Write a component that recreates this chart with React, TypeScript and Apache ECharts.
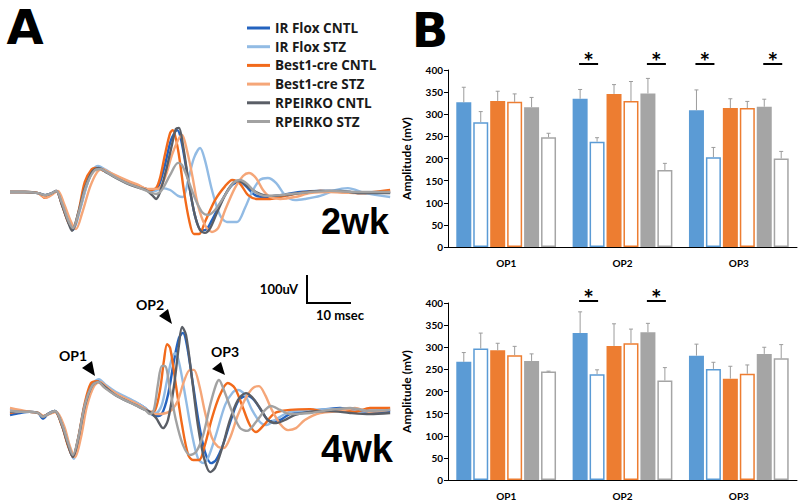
import React, { useEffect, useRef } from 'react';
import * as echarts from 'echarts';

// ---------- DATA ----------
const groups = ['IR Flox CNTL', 'IR Flox STZ', 'Best1-cre CNTL', 'Best1-cre STZ', 'RPEIRKO CNTL', 'RPEIRKO STZ'];
const opCategories = ['OP1', 'OP2', 'OP3'];
const ampTicks = [0, 400, 50];

// Traces (time in msec, amplitude in uV), 2 weeks
const t2_irfCntl = [[0,0],[3.4,0],[6.4,-4],[8.0,-11],[9.5,-4],[10.5,4],[11.8,-43],[13.2,-104],[14.3,-136],[15.7,-71],[17.3,18],[18.9,79],[20.2,89],[21.8,75],[24.1,54],[26.4,36],[28.6,21],[30.9,11],[32.3,4],[33.6,14],[35.2,96],[36.6,186],[38.0,221],[38.9,186],[40.5,43],[42.0,-82],[43.4,-136],[44.3,-136],[45.9,-100],[48.2,-29],[50.5,25],[52.3,36],[53.6,21],[55.7,-11],[58.0,-18],[61.4,-11],[65.9,0],[70.5,4],[75.0,4],[79.5,-4],[86.4,0]];
const t2_irfStz = [[0,0],[3.4,0],[6.4,-4],[8.0,-11],[9.5,-4],[10.5,4],[11.8,-36],[13.2,-96],[14.5,-125],[15.9,-64],[17.5,25],[18.9,82],[20.0,93],[21.8,79],[24.1,57],[26.4,39],[28.6,25],[30.9,11],[33.0,4],[34.5,14],[36.4,7],[38.2,-14],[39.3,-18],[40.5,43],[41.8,121],[43.2,157],[44.3,114],[45.9,7],[47.7,-82],[49.3,-107],[51.6,-107],[53.4,-57],[55.0,0],[56.8,43],[58.6,50],[60.5,32],[62.5,-11],[64.8,-29],[67.0,-25],[70.5,-14],[73.9,7],[76.8,14],[80.7,-4],[86.4,-18]];
const t2_b1Cntl = [[0,0],[3.4,0],[6.4,-4],[8.0,-21],[9.5,-7],[10.5,4],[11.8,-46],[13.2,-107],[14.3,-129],[15.5,-75],[17.0,36],[18.6,82],[19.5,86],[21.4,75],[24.1,57],[26.4,39],[28.6,25],[30.9,11],[31.8,7],[33.2,14],[34.1,50],[35.2,132],[36.4,211],[37.0,221],[38.2,150],[39.5,7],[40.7,-100],[41.8,-150],[43.0,-150],[44.3,-107],[46.6,-29],[48.9,21],[50.5,43],[52.3,29],[54.1,-11],[56.4,-25],[59.1,-25],[62.5,-14],[65.9,-4],[70.5,4],[75.0,0],[79.5,-4],[86.4,7]];
const t2_b1Stz = [[0,0],[3.4,0],[6.4,-4],[8.2,-21],[9.8,-7],[10.9,4],[12.3,-43],[13.9,-107],[15.0,-132],[16.4,-75],[18.2,18],[19.8,71],[20.9,82],[22.5,71],[24.8,54],[27.0,39],[29.3,25],[31.1,11],[33.6,11],[35.2,50],[36.8,132],[38.2,186],[39.1,204],[40.2,150],[41.4,61],[42.7,-46],[44.3,-118],[45.9,-143],[47.3,-129],[48.9,-64],[51.1,14],[52.95,57],[54.3,68],[55.9,50],[57.5,7],[59.1,-18],[61.4,-25],[64.8,-18],[68.2,-4],[72.7,0],[79.5,-4],[86.4,0]];
const t2_rpCntl = [[0,0],[3.4,0],[6.4,-4],[8.0,-11],[9.5,-4],[10.5,4],[11.8,-46],[13.2,-107],[14.1,-139],[15.5,-75],[17.1,18],[18.8,75],[20.2,86],[21.8,71],[24.1,50],[26.4,32],[28.6,18],[30.9,7],[32.3,-11],[33.2,-25],[34.1,0],[35.5,79],[36.8,168],[37.7,225],[38.4,229],[39.3,168],[40.7,25],[42.0,-82],[43.2,-136],[44.3,-146],[45.5,-129],[47.3,-64],[49.5,7],[51.4,39],[52.7,36],[54.5,14],[56.4,-4],[58.6,-14],[62.5,-11],[65.9,-4],[70.5,4],[75.0,4],[79.5,-4],[86.4,-4]];
const t2_rpStz = [[0,0],[3.4,0],[6.4,-4],[8.0,-11],[9.5,-4],[10.5,4],[11.8,-39],[13.2,-100],[14.3,-129],[15.7,-68],[17.3,21],[19.1,75],[20.5,82],[22.0,71],[24.3,50],[26.6,32],[28.9,18],[31.8,0],[33.2,-7],[34.5,7],[36.4,61],[38.2,104],[39.1,96],[40.5,43],[42.0,-21],[43.6,-71],[45.0,-82],[46.6,-64],[48.9,-11],[50.7,32],[52.3,43],[53.9,29],[55.7,0],[58.0,-14],[61.4,-11],[65.9,-4],[72.7,4],[79.5,0],[86.4,0]];

// Traces, 4 weeks
const t4_irfCntl = [[0,-7],[2.3,0],[4.5,4],[6.4,0],[7.5,-21],[8.6,-4],[10.2,7],[11.8,-43],[13.2,-114],[14.3,-157],[15.5,-93],[17.0,29],[18.6,100],[20.0,114],[21.6,96],[23.9,71],[26.1,57],[28.4,39],[30.7,18],[31.8,0],[33.2,-11],[34.5,-4],[35.9,64],[37.3,189],[38.4,268],[39.3,286],[40.2,243],[41.6,100],[43.0,-43],[44.3,-139],[45.7,-179],[46.8,-168],[48.4,-114],[50.2,-25],[52.0,46],[53.9,61],[55.5,46],[57.3,4],[59.1,-29],[61.4,-25],[63.6,-4],[68.0,4],[70.5,11],[75.0,18],[79.5,7],[84.1,4],[86.4,7]];
const t4_irfStz = [[0,14],[2.3,7],[4.5,4],[6.4,0],[7.5,-14],[8.6,-4],[10.2,7],[11.8,-39],[13.2,-111],[14.5,-164],[15.7,-100],[17.2,29],[18.8,104],[20.2,121],[21.8,100],[24.1,75],[26.4,57],[28.6,39],[30.7,18],[31.8,4],[33.2,0],[34.5,29],[35.7,118],[36.8,196],[37.5,214],[38.4,182],[40.0,46],[41.4,-79],[42.7,-161],[43.9,-179],[45.0,-161],[46.8,-79],[48.9,29],[50.7,75],[51.8,82],[53.4,64],[55.0,11],[56.8,-32],[58.2,-43],[60.2,-25],[63.6,4],[68.2,11],[72.7,14],[77.3,7],[81.8,11],[86.4,14]];
const t4_b1Cntl = [[0,0],[2.3,4],[4.5,4],[6.4,0],[7.5,-11],[8.6,-4],[10.2,4],[11.8,-46],[13.2,-118],[14.3,-157],[15.5,-89],[17.0,36],[18.4,107],[19.8,114],[21.4,93],[23.9,68],[26.1,50],[28.4,32],[30.7,14],[31.8,4],[33.0,11],[34.1,82],[35.0,189],[35.7,246],[36.4,232],[37.7,100],[39.1,-43],[40.5,-150],[41.6,-168],[43.0,-168],[44.3,-114],[45.9,-18],[47.7,64],[49.5,107],[51.1,89],[52.7,29],[54.5,-43],[55.9,-68],[57.7,-43],[60.2,0],[63.6,11],[68.2,14],[71.6,4],[75.0,11],[78.4,4],[81.8,18],[86.4,18]];
const t4_b1Stz = [[0,18],[2.3,11],[4.5,4],[6.4,0],[7.7,-11],[8.9,-4],[10.5,4],[12.3,-46],[13.6,-118],[14.8,-157],[16.1,-89],[17.5,25],[19.1,96],[20.5,111],[22.0,93],[24.3,68],[26.6,50],[28.9,32],[30.7,14],[31.8,0],[33.6,-4],[35.5,0],[36.8,11],[38.2,46],[39.5,111],[40.9,154],[41.8,154],[43.0,100],[44.3,4],[45.9,-89],[47.3,-121],[48.6,-125],[50.0,-89],[51.8,-7],[53.6,54],[55.2,89],[56.6,96],[58.0,64],[59.5,11],[61.4,-39],[63.2,-61],[65.0,-54],[67.0,-25],[70.5,0],[75.0,7],[78.4,18],[81.8,4],[86.4,11]];
const t4_rpCntl = [[0,4],[2.3,4],[4.5,4],[6.4,0],[7.5,-14],[8.6,-4],[10.2,7],[11.8,-43],[13.2,-114],[14.3,-157],[15.5,-93],[17.0,25],[18.6,96],[20.0,111],[21.6,93],[23.9,64],[26.1,46],[28.4,29],[30.7,11],[31.8,4],[33.2,-18],[34.8,-54],[35.9,-25],[37.3,100],[38.4,243],[39.1,307],[40.0,279],[41.4,118],[42.7,-43],[44.1,-161],[45.5,-211],[46.6,-196],[48.2,-125],[50.0,-25],[51.8,46],[53.6,71],[55.0,57],[56.8,18],[58.6,-25],[60.5,-36],[62.5,-25],[64.8,-7],[68.2,4],[72.7,7],[77.3,0],[81.8,-4],[86.4,0]];
const t4_rpStz = [[0,7],[2.3,4],[4.5,4],[6.4,0],[7.5,-14],[8.6,-4],[10.2,7],[11.8,-39],[13.2,-107],[14.3,-150],[15.5,-89],[17.0,29],[18.6,96],[20.0,111],[21.6,89],[23.9,64],[26.1,46],[28.4,29],[30.7,11],[31.8,-4],[32.7,11],[33.6,100],[34.5,168],[35.2,168],[36.4,82],[37.7,-25],[39.3,-114],[40.9,-150],[42.3,-139],[43.9,-79],[45.5,29],[46.8,100],[47.5,118],[48.6,82],[50.5,4],[52.3,-54],[53.9,-64],[55.9,-32],[58.0,11],[59.3,25],[61.4,11],[63.6,-4],[68.2,0],[72.7,11],[77.3,18],[81.8,7],[86.4,11]];

// Bar chart amplitudes (mV) OP1..OP3, and SEM
const w2_irfCntl = [327, 335, 309]; const w2_irfCntlErr = [34, 21, 46];
const w2_irfStz = [282, 238, 203];  const w2_irfStzErr = [24, 9, 22];
const w2_b1Cntl = [330, 346, 314];  const w2_b1CntlErr = [22, 21, 21];
const w2_b1Stz = [328, 330, 314];   const w2_b1StzErr = [18, 44, 15];
const w2_rpCntl = [316, 347, 317];  const w2_rpCntlErr = [22, 34, 17];
const w2_rpStz = [248, 174, 200];   const w2_rpStzErr = [9, 15, 16];

const w4_irfCntl = [267, 332, 281]; const w4_irfCntlErr = [21, 48, 26];
const w4_irfStz = [297, 239, 251];  const w4_irfStzErr = [35, 10, 15];
const w4_b1Cntl = [293, 303, 229];  const w4_b1CntlErr = [16, 50, 28];
const w4_b1Stz = [282, 309, 240];   const w4_b1StzErr = [20, 32, 20];
const w4_rpCntl = [269, 334, 285];  const w4_rpCntlErr = [16, 20, 15];
const w4_rpStz = [245, 225, 275];   const w4_rpStzErr = [1, 29, 31];

// significance: [category index, pair index (0 IR Flox, 1 Best1-cre, 2 RPEIRKO)]
const w2_sig = [[1, 0], [1, 2], [2, 0], [2, 2]];
const w4_sig = [[1, 0], [1, 2]];

// ---------- STYLE ----------
const lineColors = ['#2463BF', '#92BBE4', '#F26A1B', '#F5A678', '#5A5E66', '#A2A2A2'];
const barColors = ['#5B9BD5', '#5B9BD5', '#ED7D31', '#ED7D31', '#A5A5A5', '#A5A5A5'];
const barFilled = [true, false, true, false, true, false];
const BAR_W = 15;
const PITCH = BAR_W * 1.13;
const FONT = 'Lato, "Liberation Sans", sans-serif';
const LEG_FONT = '"Open Sans", Lato, sans-serif';

export default function App() {
  const ref = useRef<HTMLDivElement>(null);
  useEffect(() => {
    if (!ref.current) return;
    const chart = echarts.init(ref.current, undefined, { renderer: 'svg' });

    const traces2 = [t2_irfCntl, t2_irfStz, t2_b1Cntl, t2_b1Stz, t2_rpCntl, t2_rpStz];
    const traces4 = [t4_irfCntl, t4_irfStz, t4_b1Cntl, t4_b1Stz, t4_rpCntl, t4_rpStz];
    const bars2 = [w2_irfCntl, w2_irfStz, w2_b1Cntl, w2_b1Stz, w2_rpCntl, w2_rpStz];
    const errs2 = [w2_irfCntlErr, w2_irfStzErr, w2_b1CntlErr, w2_b1StzErr, w2_rpCntlErr, w2_rpStzErr];
    const bars4 = [w4_irfCntl, w4_irfStz, w4_b1Cntl, w4_b1Stz, w4_rpCntl, w4_rpStz];
    const errs4 = [w4_irfCntlErr, w4_irfStzErr, w4_b1CntlErr, w4_b1StzErr, w4_rpCntlErr, w4_rpStzErr];

    const series: any[] = [];
    [traces2, traces4].forEach((tr, k) => {
      tr.forEach((d, i) => {
        series.push({
          type: 'line', name: groups[i], xAxisIndex: k, yAxisIndex: k,
          data: d, showSymbol: false, symbol: 'none', smooth: 0.3,
          color: lineColors[i],
          lineStyle: { color: lineColors[i], width: 2.4 },
          z: 2,
        });
      });
    });

    const errRender = (params: any, api: any) => {
      const cat = api.value(0), v = api.value(1), e = api.value(2), i = api.value(3);
      const b = api.coord([cat, v]);
      const t = api.coord([cat, v + e]);
      const x = b[0] + (i - 2.5) * PITCH;
      const st = { stroke: '#9C9C9C', lineWidth: 1 };
      return {
        type: 'group',
        children: [
          { type: 'line', shape: { x1: x, y1: b[1], x2: x, y2: t[1] }, style: st },
          { type: 'line', shape: { x1: x - 2, y1: t[1], x2: x + 2, y2: t[1] }, style: st },
        ],
      };
    };
    const sigRender = (off: number) => (params: any, api: any) => {
      const cat = api.value(0), pair = api.value(1);
      const c = api.coord([cat, 400]);
      const x = c[0] + (pair * 2 + 0.5 - 2.5) * PITCH;
      const y = c[1] - off;
      return {
        type: 'group',
        children: [
          { type: 'line', shape: { x1: x - 9.5, y1: y, x2: x + 9.5, y2: y }, style: { stroke: '#000', lineWidth: 2 } },
          { type: 'text', style: { text: '*', x: x, y: y - 3, align: 'center', verticalAlign: 'middle', font: 'bold 25px ' + FONT, fill: '#000' } },
        ],
      };
    };

    [[bars2, errs2, w2_sig, 6], [bars4, errs4, w4_sig, 2]].forEach(([bars, errs, sig, off]: any, k) => {
      const ax = 2 + k;
      bars.forEach((vals: number[], i: number) => {
        series.push({
          type: 'bar', name: groups[i] + ' (bar)', xAxisIndex: ax, yAxisIndex: ax,
          data: vals, barWidth: BAR_W, barGap: '13%',
          itemStyle: barFilled[i]
            ? { color: barColors[i] }
            : { color: '#ffffff', borderColor: barColors[i], borderWidth: 1.5 },
          z: 2,
        });
      });
      const ed: number[][] = [];
      bars.forEach((vals: number[], i: number) => vals.forEach((v, c) => ed.push([c, v, errs[i][c], i])));
      series.push({
        type: 'custom', name: 'err' + k, xAxisIndex: ax, yAxisIndex: ax,
        data: ed, encode: { x: 0, y: 1 }, renderItem: errRender, z: 3, clip: false,
      });
      series.push({
        type: 'custom', name: 'sig' + k, xAxisIndex: ax, yAxisIndex: ax,
        data: sig, encode: { x: 0 }, renderItem: sigRender(off), z: 3, clip: false,
      });
    });

    const traceX = (i: number) => ({ type: 'value', gridIndex: i, min: 0, max: 86.4, show: false });
    const catX = (i: number) => ({
      type: 'category', gridIndex: i, data: opCategories,
      axisLine: { lineStyle: { color: '#000', width: 1 } },
      axisTick: { show: false },
      axisLabel: { color: '#000', fontWeight: 'bold', fontSize: 10, fontFamily: FONT, margin: 11 },
    });
    const ampY = (i: number) => ({
      type: 'value', gridIndex: i, min: ampTicks[0], max: ampTicks[1], interval: ampTicks[2],
      name: 'Amplitude (mV)', nameLocation: 'middle', nameGap: 36,
      nameTextStyle: { color: '#000', fontWeight: 'bold', fontSize: 12, fontFamily: FONT },
      axisLine: { show: true, lineStyle: { color: '#000', width: 1 } },
      axisTick: { show: true, length: 4, lineStyle: { color: '#000' } },
      axisLabel: { color: '#000', fontWeight: 'bold', fontSize: 10, fontFamily: FONT, margin: 5 },
      splitLine: { show: false },
    });

    const tri = (pts: number[][]) => ({ type: 'polygon', shape: { points: pts }, style: { fill: '#000' } });
    const txt = (text: string, x: number, y: number, font: string) => ({
      type: 'text', x, y, style: { text, font, fill: '#000', align: 'center', verticalAlign: 'middle' },
    });

    chart.setOption({
      animation: false,
      backgroundColor: '#fff',
      textStyle: { fontFamily: FONT },
      legend: {
        data: groups, orient: 'vertical', left: 247, top: 20, padding: 0, icon: 'rect',
        itemWidth: 23, itemHeight: 3, itemGap: 2.7, selectedMode: false,
        textStyle: { fontFamily: LEG_FONT, fontWeight: 'bold', fontSize: 13.5, color: '#1a1a1a', lineHeight: 16 },
      },
      grid: [
        { left: 10, top: 108, width: 380.16, height: 154 },
        { left: 10, top: 315, width: 380.16, height: 168 },
        { left: 448, top: 70, width: 349, height: 177 },
        { left: 448, top: 303, width: 349, height: 177 },
      ],
      xAxis: [traceX(0), traceX(1), catX(2), catX(3)],
      yAxis: [
        { type: 'value', gridIndex: 0, min: -250, max: 300, show: false },
        { type: 'value', gridIndex: 1, min: -250, max: 350, show: false },
        ampY(2), ampY(3),
      ],
      series,
      graphic: [
        txt('A', 25, 27, 'bold 48px "DejaVu Sans"'),
        txt('B', 430, 30, 'bold 48px "DejaVu Sans"'),
        txt('2wk', 355, 221, 'bold 36px "Liberation Sans"'),
        txt('4wk', 357, 449, 'bold 38px "Liberation Sans"'),
        txt('100uV', 279, 289, 'bold 13px ' + FONT),
        txt('10 msec', 340, 315, 'bold 13px ' + FONT),
        txt('OP1', 73, 355, 'bold 14px ' + FONT),
        txt('OP2', 150, 304, 'bold 14px ' + FONT),
        txt('OP3', 225, 351, 'bold 14px ' + FONT),
        tri([[82, 368], [92, 361], [95, 376]]),
        tri([[159, 316], [168, 309], [172, 324]]),
        tri([[212, 369], [221, 362], [225, 375]]),
        { type: 'polyline', shape: { points: [[307, 275], [307, 303], [351, 303]] }, style: { stroke: '#000', lineWidth: 2, fill: 'none' } },
      ],
    });
    return () => chart.dispose();
  }, []);
  return <div ref={ref} style={{ position: 'fixed', left: 0, top: 0, width: 800, height: 501, background: '#fff' }} />;
}
